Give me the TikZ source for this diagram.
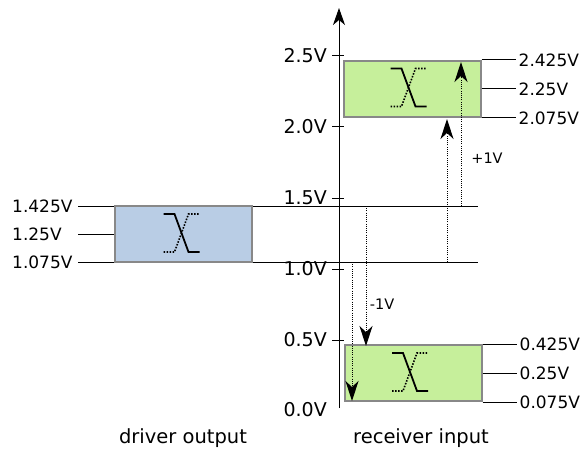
\documentclass[tikz,border=0pt]{standalone}
\usepackage{fontspec}
\setmainfont{DejaVu Sans}
\usetikzlibrary{arrows.meta}
\definecolor{bluefill}{HTML}{B9CDE5}
\definecolor{greenfill}{HTML}{C6EF9B}
\definecolor{boxedge}{HTML}{888888}
\begin{document}
\begin{tikzpicture}[x=1pt,y=-1pt,
  levelbox/.style={draw=boxedge, line width=2pt, minimum width=137pt, minimum height=56pt, inner sep=0pt},
  thinline/.style={line width=1pt},
  dotarrow/.style={line width=1pt, dash pattern=on 1pt off 1.2pt, -{Stealth[length=20pt,width=13pt,inset=6pt]}},
  axislabel/.style={anchor=east, font=\fontsize{19}{21}\selectfont, inner sep=0pt},
  sidelabel/.style={font=\fontsize{17}{19}\selectfont, inner sep=0pt},
  smalllabel/.style={font=\fontsize{14.5}{16}\selectfont, inner sep=0pt},
  biglabel/.style={font=\fontsize{19.5}{22}\selectfont, inner sep=0pt},
  xsym/.pic={
    \draw[line width=1.8pt] (-18,-19) -- (-7,-19) -- (7,19) -- (18,19);
    \draw[line width=1.6pt, dash pattern=on 1.5pt off 1.5pt] (-18,19) -- (-7,19) -- (7,-19) -- (18,-19);
  }]
\useasboundingbox (0,0) rectangle (582,452);

% long level lines (behind boxes)
\coordinate (hiL) at (78,206);
\coordinate (hiR) at (478,206);
\coordinate (loL) at (78,262);
\coordinate (loR) at (478,262);
\coordinate (midL) at (78,234);
\draw[thinline] (hiL) -- (hiR);
\draw[thinline] (loL) -- (loR);

% boxes
\node[levelbox, fill=bluefill] (drv) at (183.5,234) {};
\draw[thinline] (midL) -- (drv.west);
\node[levelbox, fill=greenfill] (up) at (412,89) {};
\node[levelbox, fill=greenfill] (dn) at (413,373) {};

\pic at (181.5,233) {xsym};
\pic at (408.5,87.5) {xsym};
\pic at (410,372) {xsym};

% left labels
\node[sidelabel, anchor=west] (l1) at (12,206) {1.425V};
\node[sidelabel, anchor=west] (l2) at (12,234) {1.25V};
\node[sidelabel, anchor=west] (l3) at (12,262) {1.075V};

% right lines and labels
\foreach \b/\ta/\tb/\tc in {up/2.425V/2.25V/2.075V, dn/0.425V/0.25V/0.075V}{
  \draw[thinline] (\b.north east) -- ++(34,0) coordinate (\b a);
  \draw[thinline] (\b.east) -- ++(34,0) coordinate (\b b);
  \draw[thinline] (\b.south east) -- ++(34,0) coordinate (\b c);
  \node[sidelabel, anchor=west] at ([xshift=3pt]\b a) {\ta};
  \node[sidelabel, anchor=west] at ([xshift=3pt]\b b) {\tb};
  \node[sidelabel, anchor=west] at ([xshift=3pt]\b c) {\tc};
}

% axis
\coordinate (ab) at (339,408);
\coordinate (at) at (339,8);
\draw[thinline, -{Stealth[length=17pt,width=12pt,inset=5pt]}] (ab) -- (at);
\foreach \yy/\lab in {56/2.5V,127/2.0V,198/1.5V,269/1.0V,340/0.5V}{
  \draw[thinline] (332,\yy) -- (344,\yy);
  \node[axislabel] at (327,\yy) {\lab};
}
\node[axislabel] (zero) at (327,410) {0.0V};

% shift arrows
\coordinate (a1s) at (447,262); \coordinate (a1e) at (447,119);
\coordinate (a2s) at (461,206); \coordinate (a2e) at (461,62);
\coordinate (a3s) at (366,206); \coordinate (a3e) at (366,346);
\coordinate (a4s) at (352,262); \coordinate (a4e) at (352,401);
\draw[dotarrow] (a1s) -- (a1e);
\draw[dotarrow] (a2s) -- (a2e);
\draw[dotarrow] (a3s) -- (a3e);
\draw[dotarrow] (a4s) -- (a4e);
\node[smalllabel] (plus) at (487,158) {+1V};
\node[smalllabel] (minus) at (382,304) {-1V};

% bottom labels
\node[biglabel] (drvlab) at (183,438) {driver output};
\node[biglabel] (rcvlab) at (421,438) {receiver input};
\end{tikzpicture}
\end{document}
